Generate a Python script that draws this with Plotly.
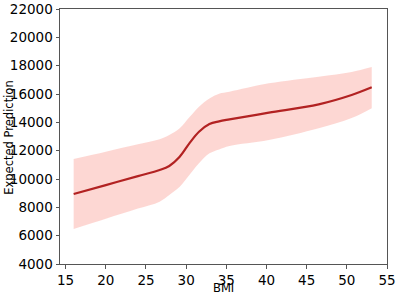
import plotly.graph_objects as go

bmi = [16, 20, 24, 26.7, 27.9, 29.2, 30.4, 31.6, 32.9, 34.1, 35.4, 40.3, 46.5, 50.6, 53.1]
pred = [8940, 9570, 10200, 10630, 10920, 11570, 12520, 13340, 13880, 14070, 14210, 14680, 15270, 15930, 16470]
upper = [11410, 11930, 12450, 12800, 13100, 13580, 14350, 15100, 15690, 16020, 16160, 16750, 17220, 17560, 17900]
lower = [6470, 7190, 7910, 8400, 8870, 9450, 10280, 11110, 11810, 12090, 12330, 12750, 13580, 14300, 15000]

x_ticks = [15, 20, 25, 30, 35, 40, 45, 50, 55]
y_ticks = [4000, 6000, 8000, 10000, 12000, 14000, 16000, 18000, 20000, 22000]

font = dict(family="DejaVu Sans", size=13.5, color="#000")
title_font = dict(family="DejaVu Sans", size=11.5, color="#000")

fig = go.Figure()
fig.add_trace(go.Scatter(x=bmi, y=upper, mode="lines", line=dict(width=0, shape="spline", smoothing=1.0),
                         showlegend=False, hoverinfo="skip"))
fig.add_trace(go.Scatter(x=bmi, y=lower, mode="lines", line=dict(width=0, shape="spline", smoothing=1.0),
                         fill="tonexty", fillcolor="rgba(248,130,118,0.32)", showlegend=False, hoverinfo="skip"))
fig.add_trace(go.Scatter(x=bmi, y=pred, mode="lines", line=dict(color="#b22222", width=2.2, shape="spline", smoothing=1.0),
                         showlegend=False))

axis_common = dict(showline=True, linecolor="#555", linewidth=1, mirror=True, ticks="outside",
                   ticklen=3.5, tickwidth=1, tickcolor="#555", showgrid=False, zeroline=False,
                   tickfont=font, automargin=False)
fig.update_xaxes(range=[14.3, 55.0], tickvals=x_ticks, ticktext=[str(v) for v in x_ticks], **axis_common)
fig.update_yaxes(range=[4000, 22000], tickvals=y_ticks, ticktext=[str(v) for v in y_ticks], **axis_common)
fig.add_annotation(text="BMI", xref="paper", yref="paper", x=0.5, y=-0.095, xanchor="center",
                   yanchor="middle", showarrow=False, font=title_font, borderpad=0)
fig.add_annotation(text="Expected Prediction", xref="paper", yref="paper", x=-0.156, y=0.495,
                   xanchor="center", yanchor="middle", textangle=-90, showarrow=False, font=title_font,
                   borderpad=0)
fig.update_layout(width=399, height=298, margin=dict(l=60, r=12, t=9, b=34),
                  plot_bgcolor="white", paper_bgcolor="white")
fig.write_html("out.html", config={"displayModeBar": False},
               post_script="document.body.style.margin='0';document.body.style.overflow='hidden';")
